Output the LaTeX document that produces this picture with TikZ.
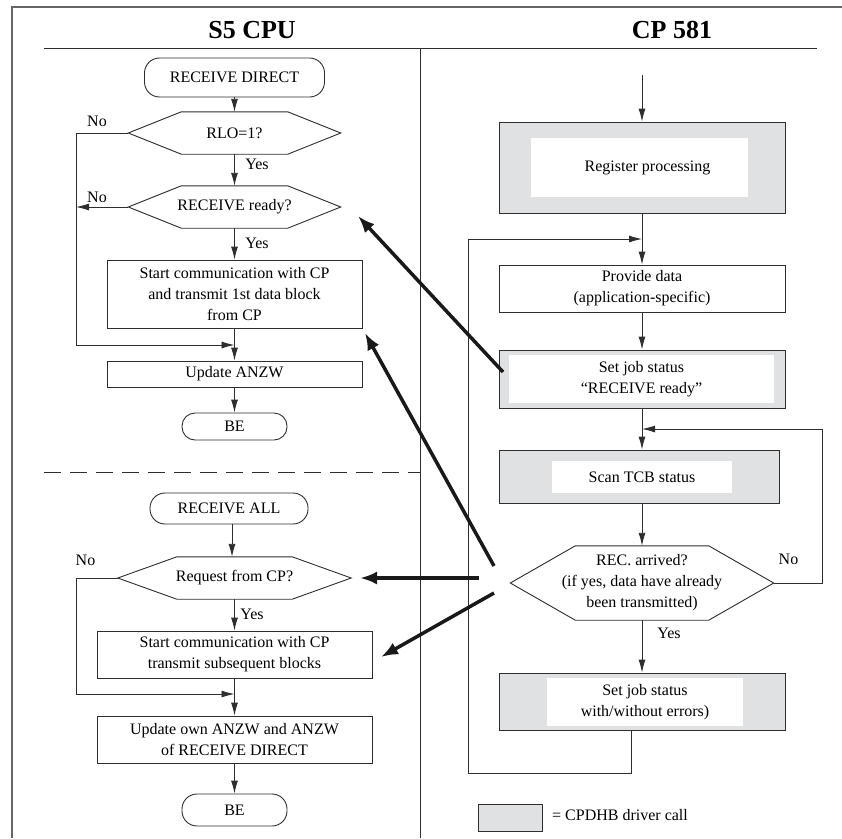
\documentclass[tikz,border=0pt]{standalone}
\usepackage{fontspec}
\setmainfont{Liberation Serif}
\usetikzlibrary{arrows.meta,calc}
\definecolor{gfill}{RGB}{224,225,227}
\newcommand\hexdraw[2]{\draw[ln] (#1.west) -- ($(#1.north west)+(#2,0)$) -- ($(#1.north east)+(-#2,0)$) -- (#1.east) -- ($(#1.south east)+(-#2,0)$) -- ($(#1.south west)+(#2,0)$) -- cycle;}
\begin{document}
\begin{tikzpicture}[x=1pt,y=-1pt,
  ln/.style={draw=black!82, line width=0.9pt},
  arr/.style={ln, -{Latex[length=13pt,width=7pt]}},
  thk/.style={draw=black!90, line width=3.5pt, -{Latex[length=17pt,width=13pt]}},
  tx/.style={font=\fontsize{16}{21}\selectfont, align=center, inner sep=0pt},
  box/.style={tx, ln, rectangle, fill=white},
  gbox/.style={ln, rectangle, fill=gfill, inner sep=0pt},
  inbox/.style={tx, rectangle, fill=white, draw=none},
  term/.style={box, rounded corners=#1},
  hex/.style={tx, rectangle, draw=none},
  lbl/.style={font=\fontsize{16}{21}\selectfont, inner sep=0pt},
  head/.style={font=\fontsize{26}{30}\selectfont\bfseries, inner sep=0pt}
]
\useasboundingbox (0,0) rectangle (842,838);
% frame and headers
\draw[line width=1.6pt, black!60] (12,838) -- (12,7) -- (842,7);
\node[head] (h1) at (252,30) {S5 CPU};
\node[head] (h2) at (672,30) {CP 581};
\draw[ln] (44,48) -- (817,48);
\draw[ln] (420,48) -- (420,838);
\draw[ln, dash pattern=on 17pt off 9pt] (44,472) -- (420,472);

% ---------- left top: RECEIVE DIRECT ----------
\node[term=15pt, minimum width=180pt, minimum height=39pt] (t1) at (234.5,77.5) {RECEIVE DIRECT};
\node[hex, minimum width=212pt, minimum height=42pt] (d1) at (234.5,133) {RLO=1?};
\hexdraw{d1}{53}
\node[hex, minimum width=212pt, minimum height=42pt] (d2) at (234.5,207) {RECEIVE ready?};
\hexdraw{d2}{53}
\node[box, minimum width=255pt, minimum height=68pt] (b1) at (234.5,294) {Start communication with CP\\and transmit 1st data block\\from CP};
\node[box, minimum width=255pt, minimum height=26pt] (b2) at (234.5,374) {Update ANZW};
\node[term=13pt, minimum width=105pt, minimum height=27pt] (t2) at (234.5,426.5) {BE};
\coordinate (j1) at (234.5,345);
\coordinate (n2) at (76,207);
\draw[arr] (t1.south) -- (d1.north);
\draw[arr] (d1.south) -- (d2.north);
\draw[arr] (d2.south) -- (b1.north);
\draw[arr] (b1.south) -- (b2.north);
\draw[arr] (b2.south) -- (t2.north);
\draw[arr] (d1.west) -- (76,133) -- (76,345) -- (j1);
\draw[arr] (d2.west) -- (n2);
\node[lbl] (l1) at (97,121) {No};
\node[lbl] (l2) at (97,197) {No};
\node[lbl] (l3) at (257,164) {Yes};
\node[lbl] (l4) at (257,243) {Yes};

% ---------- left bottom: RECEIVE ALL ----------
\node[term=15pt, minimum width=158pt, minimum height=31pt] (t3) at (229,508.5) {RECEIVE ALL};
\node[hex, minimum width=233pt, minimum height=42pt] (d3) at (234.5,578) {Request from CP?};
\hexdraw{d3}{59}
\node[box, minimum width=275pt, minimum height=47pt] (b3) at (234.5,654.5) {Start communication with CP\\transmit subsequent blocks};
\node[box, minimum width=275pt, minimum height=47pt] (b4) at (234.5,739.5) {Update own ANZW and ANZW\\of RECEIVE DIRECT};
\node[term=15pt, minimum width=105pt, minimum height=32pt] (t4) at (234.5,810) {BE};
\coordinate (j2) at (234.5,694);
\draw[arr] ([xshift=3pt]t3.south) -- ([xshift=3pt]t3.south |- d3.north);
\draw[arr] (d3.south) -- (b3.north);
\draw[arr] (b3.south) -- (b4.north);
\draw[arr] (b4.south) -- (t4.north);
\draw[arr] (d3.west) -- (76,578) -- (76,694) -- (j2);
\node[lbl] (l5) at (85.5,560) {No};
\node[lbl] (l6) at (252,614) {Yes};

% ---------- right: CP 581 ----------
\coordinate (s0) at (642,75);
\node[gbox, minimum width=286pt, minimum height=91pt] (r1) at (642,167.5) {};
\node[inbox, minimum width=217pt, minimum height=59pt] (r1t) at (639.5,167.5) {\hspace*{16pt}Register processing};
\node[box, minimum width=286pt, minimum height=47pt] (r2) at (642,288.5) {Provide data\\(application-specific)};
\node[gbox, minimum width=286pt, minimum height=58pt] (r3) at (642,379) {};
\node[inbox, minimum width=265pt, minimum height=48pt] (r3t) at (641.5,379) {Set job status\\“RECEIVE ready”};
\node[gbox, minimum width=280pt, minimum height=53pt] (r4) at (639,476.5) {};
\node[inbox, minimum width=180pt, minimum height=32pt] (r4t) at (642,477) {Scan TCB status};
\node[hex, minimum width=263pt, minimum height=74pt] (d4) at (642,583) {REC. arrived?\\(if yes, data have already\\been transmitted)};
\hexdraw{d4}{65}
\node[gbox, minimum width=286pt, minimum height=57pt] (r5) at (642,701.5) {};
\node[inbox, minimum width=196pt, minimum height=48pt] (r5t) at (645,702) {Set job status\\with/without errors)};
\coordinate (j3) at (642,239);
\coordinate (j4) at (642,429);
\draw[arr] (s0) -- (r1.north);
\draw[arr] (r1.south) -- (r2.north);
\draw[arr] (r2.south) -- (r3.north);
\draw[arr] (r3.south) -- (r3.south |- r4.north);
\draw[arr] (r4.south -| d4.north) -- (d4.north);
\draw[arr] (d4.south) -- (r5.north);
\draw[arr] ([xshift=-11pt]r5.south) -- (631,773) -- (468,773) -- (468,239) -- (j3);
\draw[arr] (d4.east) -- (822,583) -- (822,429) -- (j4);
\node[lbl] (l7) at (788.5,559) {No};
\node[lbl] (l8) at (669,633) {Yes};

% ---------- thick cross arrows ----------
\coordinate (a1s) at (503,372); \coordinate (a1e) at (358,216);
\coordinate (a2s) at (494,566); \coordinate (a2e) at (365,333);
\coordinate (a3s) at (479,578); \coordinate (a3e) at (360,578);
\coordinate (a4s) at (494,593); \coordinate (a4e) at (381,657);
\draw[thk] (a1s) -- (a1e);
\draw[thk] (a2s) -- (a2e);
\draw[thk] (a3s) -- (a3e);
\draw[thk] (a4s) -- (a4e);

% ---------- legend ----------
\node[gbox, minimum width=64pt, minimum height=27pt] (lg) at (510,817.5) {};
\node[lbl, anchor=west] (lgt) at (552,815) {= CPDHB driver call};
\end{tikzpicture}
\end{document}
